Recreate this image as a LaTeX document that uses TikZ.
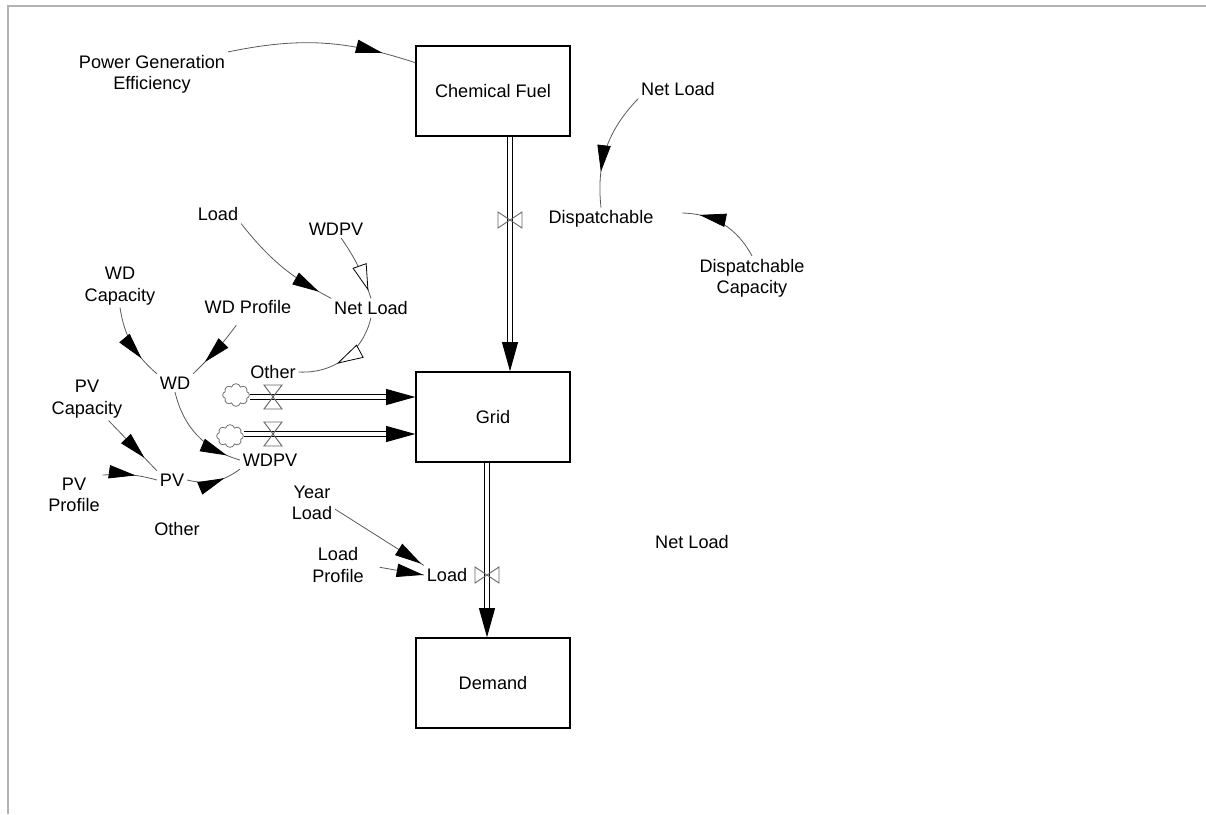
\documentclass[tikz,border=0pt]{standalone}
\usepackage{fontspec}
\setmainfont{Liberation Sans}
\usetikzlibrary{arrows.meta,shapes.symbols,decorations.markings}
\newcommand{\valvex}[1]{\draw[valve,shift={(#1)}] (-12,-8) -- (12,8) -- (12,-8) -- (-12,8) -- cycle;}
\newcommand{\valvey}[1]{\draw[valve,shift={(#1)}] (-9,-12) -- (9,12) -- (-9,12) -- (9,-12) -- cycle;}

\begin{document}
\begin{tikzpicture}[x=0.75pt,y=-0.75pt,font=\fontsize{13.6}{16}\selectfont,
    stock/.style={draw, line width=1pt, minimum width=115.5pt, minimum height=67.5pt, inner sep=0},
    var/.style={align=center, inner sep=2pt},
    link/.style={draw=black!65, line width=0.6pt},
    headat/.style={postaction={decorate}, decoration={markings, mark=at position #1 with {\arrow[black]{Triangle[length=20pt,width=10pt]}}}},
    hollowat/.style={postaction={decorate}, decoration={markings, mark=at position #1 with {\arrow[black]{Triangle[length=20pt,width=11pt,fill=white,line width=0.6pt]}}}},
    pipe/.style={double, double distance=3.2pt, line width=0.9pt, -{Triangle[length=22pt,width=12pt]}},
    valve/.style={draw=black!60, line width=0.7pt},
    source/.style={cloud, cloud puffs=8, aspect=1.3, draw=black!55, line width=0.6pt, minimum width=20pt, minimum height=17pt, inner sep=0},
    frame/.style={draw=black!30, line width=0.8pt}]
    \useasboundingbox (0,0) rectangle (1206,814);
    %\draw[help lines] (0,0) grid (1206,814);
    \draw[frame] (8,814) -- (8,6) -- (1206,6);

    \node[stock] (chem) at (493,91) {Chemical Fuel};
    \node[stock] (grid) at (493,417) {Grid};
    \node[stock] (demand) at (493,683) {Demand};

    \node[source] (cldO) at (236,395) {};
    \node[source] (cldW) at (230,436) {};
    \coordinate (vC) at (510,220);
    \coordinate (vO) at (273,397);
    \coordinate (vW) at (273,434);
    \coordinate (vL) at (487,575);

    \node[var] (pge) at (152,74) {Power Generation\\Efficiency};
    \node[var] (nlA) at (678,89) {Net Load};
    \node[var] (disp) at (601,219) {Dispatchable};
    \node[var] (dispcap) at (752,278) {Dispatchable\\Capacity};
    \node[var] (loadA) at (218,214) {Load};
    \node[var] (wdpvA) at (336,229) {WDPV};
    \node[var] (wdcap) at (120,286) {WD\\Capacity};
    \node[var] (wdprof) at (248,307) {WD Profile};
    \node[var] (nlB) at (371,308) {Net Load};
    \node[var] (otherA) at (273,372) {Other};
    \node[var] (wd) at (175,383) {WD};
    \node[var] (pvcap) at (87,399) {PV\\Capacity};
    \node[var] (wdpvB) at (270,460) {WDPV};
    \node[var] (pv) at (172,480) {PV};
    \node[var] (pvprof) at (74,495) {PV\\Profile};
    \node[var] (otherB) at (177,529) {Other};
    \node[var] (yearload) at (312,503) {Year\\Load};
    \node[var] (loadprof) at (338,565) {Load\\Profile};
    \node[var] (loadB) at (447,575) {Load};
    \node[var] (nlC) at (692,542) {Net Load};

    \draw[pipe] (vC |- chem.south) -- (vC |- grid.north);
    \draw[pipe] (cldO.east |- vO) -- (vO -| grid.west);
    \draw[pipe] (cldW.east |- vW) -- (vW -| grid.west);
    \draw[pipe] (vL |- grid.south) -- (vL |- demand.north);
    \valvex{vC}
    \valvex{vL}
    \valvey{vO}
    \valvey{vW}

    \draw[link, headat=0.82] (pge.north east) to[bend left=15] (chem.160);
    \draw[link, headat=0.7] (nlA.south west) to[bend right=25] (disp.north);
    \draw[link, headat=0.8] (dispcap.north) to[bend right=30] ([shift={(26,-6)}]disp.east);
    \draw[link, headat=0.88] (loadA.south east) to[bend right=12] (nlB.north west);
    \draw[link, hollowat=0.88] (wdpvA.-60) to[bend left=8] (nlB.north);
    \draw[link, hollowat=0.6] (nlB.south) to[bend left=40] (otherA.east);
    \draw[link, headat=0.72] (wdcap.south) to[bend right=20] (wd.north west);
    \draw[link, headat=0.78, shorten <=8pt] (wdprof.-120) to[bend left=5] (wd.north east);
    \draw[link, headat=0.74] (pvcap.-45) -- (pv.north west);
    \draw[link, headat=0.6] (pvprof.north east) to[bend left=10] (pv.west);
    \draw[link, headat=0.86] (wd.south) to[bend right=30] (wdpvB.west);
    \draw[link, headat=0.68] (pv.east) to[bend right=25] (wdpvB.south west);
    \draw[link, headat=0.97] (yearload.-15) -- (loadB.north west);
    \draw[link, headat=0.99, shorten <=10pt] (loadprof.east) -- (loadB.west);
\end{tikzpicture}
\end{document}
